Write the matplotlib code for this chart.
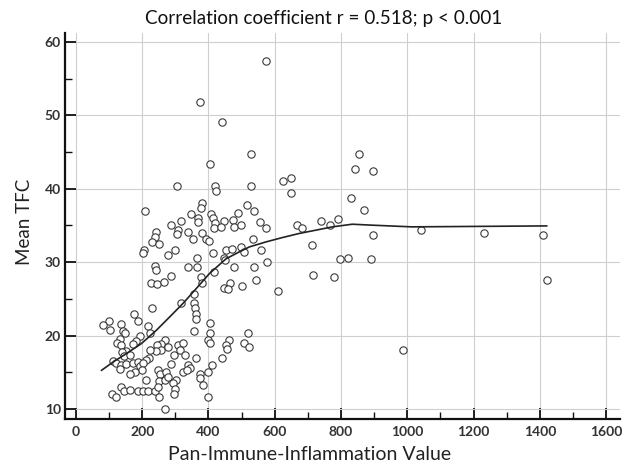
import matplotlib
matplotlib.use("Agg")
import matplotlib.pyplot as plt
from matplotlib.ticker import MultipleLocator

# Pan-Immune-Inflammation Value (x) and Mean TFC (y)
piv = [574.5, 373.0, 442.2, 529.4, 403.1, 303.8, 421.1, 424.1, 529.4, 625.7,
       649.7, 649.7, 207.6, 830.2, 842.2, 854.3, 896.4, 869.3, 381.1, 378.1,
       517.4, 536.9, 345.9, 367.0, 367.0, 409.1, 415.1, 419.6, 488.2, 315.8,
       287.3, 446.1, 474.4, 478.3, 497.8, 418.1, 439.2, 555.6, 573.6, 666.9,
       683.7, 738.5, 766.1, 792.0, 307.7, 305.9, 338.4, 352.8, 379.9, 393.1,
       401.6, 533.9, 277.6, 297.8, 415.1, 453.3, 472.3, 446.1, 450.3, 498.4,
       508.4, 558.0, 538.4, 364.0, 337.8, 366.1, 418.1, 476.2, 285.8, 378.1,
       379.9, 446.1, 466.2, 458.1, 500.2, 543.5, 355.8, 575.4, 712.9, 897.3,
       716.8, 779.1, 797.1, 820.3, 891.3, 608.5, 1041.7, 1232.4, 1408.7, 1420.7,
       985.7, 242.7, 237.6, 230.7, 250.6, 204.5, 202.4, 239.7, 242.7, 225.6,
       244.6, 264.7, 230.7, 174.5, 187.4, 100.2, 80.3, 102.3, 137.5, 217.5,
       222.6, 142.3, 147.4, 132.4, 124.2, 137.5, 192.5, 182.6, 172.4, 267.7,
       257.8, 244.6, 257.8, 242.7, 222.6, 220.5, 212.7, 152.5, 140.5, 145.3,
       162.4, 112.2, 122.4, 137.5, 150.4, 132.4, 172.4, 187.4, 192.5, 202.4,
       200.6, 177.5, 162.4, 210.6, 247.6, 252.7, 272.8, 250.6, 267.7, 137.5,
       144.4, 162.4, 107.4, 122.4, 187.4, 202.4, 217.5, 237.6, 247.6, 250.6,
       267.7, 315.8, 355.8, 359.5, 361.0, 361.0, 355.8, 406.1, 403.1, 398.0,
       405.2, 520.4, 508.4, 523.4, 463.2, 453.3, 455.1, 440.1, 411.2, 398.0,
       373.0, 375.1, 382.9, 398.0, 277.6, 307.7, 322.8, 312.8, 327.9, 295.7,
       287.9, 337.8, 342.9, 322.8, 336.0, 361.0, 277.6, 302.9, 292.7, 297.8,
       295.7]
tfc = [57.4, 51.8, 49.1, 44.7, 43.3, 40.3, 40.3, 39.7, 40.3, 41.0,
       41.4, 39.4, 36.9, 38.7, 42.7, 44.7, 42.4, 37.1, 38.1, 37.4,
       37.8, 37.0, 36.5, 36.0, 35.4, 36.5, 36.0, 35.3, 36.7, 35.6,
       35.1, 35.6, 35.7, 34.8, 35.1, 34.7, 34.8, 35.4, 34.7, 35.0,
       34.7, 35.6, 35.0, 35.9, 34.4, 33.8, 34.1, 33.1, 34.0, 33.1,
       32.9, 33.1, 31.0, 31.6, 31.3, 31.6, 31.8, 30.6, 30.3, 32.0,
       31.4, 31.7, 29.3, 30.6, 29.3, 29.4, 28.7, 29.3, 28.1, 28.0,
       27.2, 26.5, 27.1, 26.3, 26.7, 27.6, 25.7, 30.0, 32.3, 33.7,
       28.3, 28.0, 30.4, 30.6, 30.4, 26.0, 34.4, 34.0, 33.7, 27.6,
       18.0, 34.1, 33.4, 32.8, 32.4, 31.7, 31.3, 29.5, 28.9, 27.1,
       27.0, 27.3, 23.7, 23.0, 22.0, 22.0, 21.4, 20.7, 21.6, 21.3,
       20.4, 20.6, 20.3, 19.5, 19.0, 18.7, 20.0, 19.3, 18.8, 19.4,
       18.8, 18.7, 18.0, 17.9, 18.0, 17.0, 16.7, 17.9, 17.8, 17.2,
       17.3, 16.6, 16.3, 16.0, 16.1, 15.4, 16.3, 16.4, 15.8, 16.2,
       15.3, 15.1, 14.8, 13.9, 15.3, 14.8, 15.0, 13.8, 13.9, 13.0,
       12.5, 12.6, 12.0, 11.7, 12.4, 12.5, 12.5, 12.5, 13.0, 11.7,
       10.05, 24.4, 24.4, 23.7, 23.0, 22.2, 20.6, 21.7, 20.4, 19.4,
       19.0, 20.4, 19.0, 18.4, 19.4, 18.7, 18.2, 17.0, 16.0, 15.0,
       14.7, 14.2, 13.3, 11.6, 18.4, 18.7, 19.0, 18.1, 17.3, 17.3,
       16.1, 16.0, 15.6, 15.0, 15.3, 17.0, 14.3, 14.0, 13.5, 12.7,
       12.1]

# LOESS fit line
fit_x = [77.3, 112.2, 152.5, 197.6, 242.7, 282.8, 322.8, 363.1, 403.1, 453.3,
         493.3, 523.4, 573.6, 623.6, 673.8, 724.0, 774.0, 834.0, 894.0, 1013.7,
         1420.7]
fit_y = [15.27, 16.4, 17.55, 18.91, 20.72, 22.53, 24.36, 26.4, 28.45, 30.46,
         31.4, 32.07, 32.75, 33.35, 33.9, 34.35, 34.8, 35.16, 35.03, 34.8,
         34.93]

title = "Correlation coefficient r = 0.518; p < 0.001"
xlabel = "Pan-Immune-Inflammation Value"
ylabel = "Mean TFC"

FONT = ["Lato", "DejaVu Sans"]

fig = plt.figure(figsize=(6.22, 4.67), dpi=100)
ax = fig.add_axes([0.1045, 0.1028, 0.8923, 0.8266])

ax.grid(True, which="major", color="#cfcfcf", linewidth=0.8, zorder=0)
ax.scatter(piv, tfc, s=28, facecolors="white", edgecolors="#3a3a3a",
           linewidths=0.8, zorder=3)
ax.plot(fit_x, fit_y, color="#222222", linewidth=1.2, zorder=4,
        solid_joinstyle="round")

ax.set_xlim(-33, 1642)
ax.set_ylim(8.64, 61.2)
ax.xaxis.set_major_locator(MultipleLocator(200))
ax.xaxis.set_minor_locator(MultipleLocator(100))
ax.yaxis.set_major_locator(MultipleLocator(10))
ax.yaxis.set_minor_locator(MultipleLocator(5))

for s in ["top", "right"]:
    ax.spines[s].set_visible(False)
for s in ["left", "bottom"]:
    ax.spines[s].set_linewidth(1.6)
    ax.spines[s].set_color("#111111")

ax.tick_params(which="major", direction="in", length=8, width=1.3,
               color="#111111", labelsize=10, labelcolor="#333333")
ax.tick_params(which="minor", direction="in", length=5, width=1.0,
               color="#111111")
ax.tick_params(axis="y", pad=3)
ax.tick_params(axis="x", pad=5)
for lab in ax.get_xticklabels() + ax.get_yticklabels():
    lab.set_family(FONT)
    lab.set_fontweight("bold")

fig.text(0.521, 0.961, title, ha="center", va="center", fontsize=13.6,
         family=FONT, color="#111111")
fig.text(0.498, 0.026, xlabel, ha="center", va="center", fontsize=14,
         family=FONT, color="#222222")
fig.text(0.040, 0.525, ylabel, ha="center", va="center", fontsize=13.5,
         rotation=90, family=FONT, color="#222222")

fig.savefig("out.png", dpi=100)
